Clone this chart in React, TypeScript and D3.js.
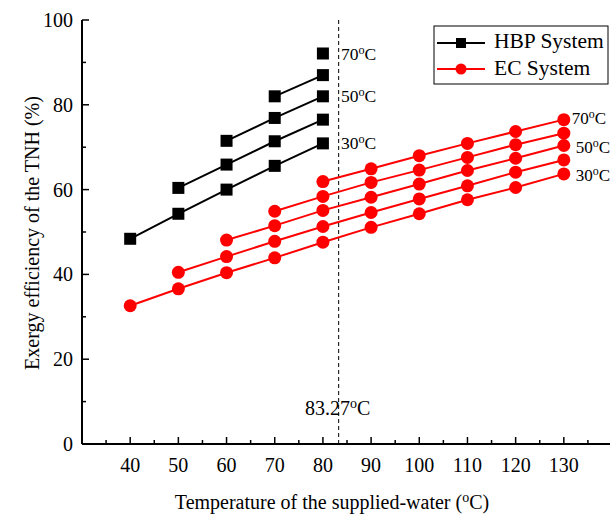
import React from "react";
import * as d3 from "d3";

// supplied-water temperatures (x values)
const hbpTemps = [40, 50, 60, 70, 80];
const ecTemps = [40, 50, 60, 70, 80, 90, 100, 110, 120, 130];

// HBP system, one list per return-water temperature (each ends at 80)
const hbp30 = [48.4, 54.3, 60.0, 65.6, 70.9];
const hbp40 = [60.4, 65.9, 71.4, 76.5];
const hbp50 = [71.5, 76.9, 82.0];
const hbp60 = [82.0, 87.0];
const hbp70 = [92.1];

// EC system, each list ends at 130
const ec30 = [32.6, 36.6, 40.4, 43.9, 47.6, 51.1, 54.3, 57.6, 60.5, 63.7];
const ec40 = [40.5, 44.2, 47.8, 51.3, 54.6, 57.8, 60.9, 64.1, 67.0];
const ec50 = [48.1, 51.5, 55.1, 58.2, 61.3, 64.5, 67.4, 70.4];
const ec60 = [54.9, 58.4, 61.7, 64.6, 67.6, 70.6, 73.3];
const ec70 = [61.9, 64.9, 68.0, 70.9, 73.7, 76.5];

const xTicks = [40, 50, 60, 70, 80, 90, 100, 110, 120, 130];
const xMinor = [35, 45, 55, 65, 75, 85, 95, 105, 115, 125, 135];
const yTicks = [0, 20, 40, 60, 80, 100];
const yMinor = [10, 30, 50, 70, 90];

const hbpLabels = ["30", "50", "70"];
const ecLabels = ["30", "50", "70"];
const critical = 83.27;

const FONT = "'Liberation Serif', 'Times New Roman', serif";

type Pt = [number, number];

// line up each list with the last temperatures of its x array
function toPoints(temps: number[], vals: number[]): Pt[] {
  const off = temps.length - vals.length;
  return vals.map((v, i) => [temps[off + i], v]);
}

function Deg(props: { t: string }) {
  return (
    <>
      <tspan>{props.t}</tspan>
      <tspan dy={-6} fontSize="0.7em">o</tspan>
      <tspan dy={6}>C</tspan>
    </>
  );
}

export default function App() {
  const width = 610, height = 515;
  const x = d3.scaleLinear().domain([30, 140]).range([82, 612]);
  const y = d3.scaleLinear().domain([0, 100]).range([444, 20]);

  const line = d3.line<Pt>().x(d => x(d[0])).y(d => y(d[1]));

  const hbp = [hbp30, hbp40, hbp50, hbp60, hbp70].map(v => toPoints(hbpTemps, v));
  const ec = [ec30, ec40, ec50, ec60, ec70].map(v => toPoints(ecTemps, v));

  const sq = 12;

  // series label anchors: 30, 50, 70 -> series index 0, 2, 4
  const labelIdx = [0, 2, 4];
  const hbpDy = [5.5, 5.5, 7];
  const ecDx = [12, 12, 8];
  const ecDy = [7, 7, 4.5];

  return (
    <svg width={width} height={height} style={{ position: "absolute", left: 0, top: 0 }}
      fontFamily={FONT}>
      <rect width={width} height={height} fill="white" />

      {/* dashed critical temperature */}
      <line x1={x(critical)} x2={x(critical)} y1={y(100)} y2={y(0)}
        stroke="#000" strokeWidth={1} strokeDasharray="4,3" />
      <text x={x(critical) - 1} y={415} textAnchor="middle" fontSize={20}>
        {critical.toFixed(2)}
        <tspan dy={-7} fontSize="0.7em">o</tspan>
        <tspan dy={7}>C</tspan>
      </text>

      {/* EC series */}
      {ec.map((pts, i) => (
        <g key={"ec" + i}>
          {pts.length > 1 && <path d={line(pts) || ""} fill="none" stroke="#ff0000" strokeWidth={2} />}
          {pts.map((p, j) => (
            <circle key={j} cx={x(p[0])} cy={y(p[1])} r={6.5} fill="#ff0000" />
          ))}
        </g>
      ))}

      {/* HBP series */}
      {hbp.map((pts, i) => (
        <g key={"hbp" + i}>
          {pts.length > 1 && <path d={line(pts) || ""} fill="none" stroke="#000" strokeWidth={2} />}
          {pts.map((p, j) => (
            <rect key={j} x={x(p[0]) - sq / 2} y={y(p[1]) - sq / 2} width={sq} height={sq} fill="#000" />
          ))}
        </g>
      ))}

      {/* series labels */}
      {hbpLabels.map((t, k) => {
        const pts = hbp[labelIdx[k]];
        const p = pts[pts.length - 1];
        return (
          <text key={"hl" + k} x={x(p[0]) + 18} y={y(p[1]) + hbpDy[k]} fontSize={17.5}>
            <Deg t={t} />
          </text>
        );
      })}
      {ecLabels.map((t, k) => {
        const pts = ec[labelIdx[k]];
        const p = pts[pts.length - 1];
        return (
          <text key={"el" + k} x={x(p[0]) + ecDx[k]} y={y(p[1]) + ecDy[k]} fontSize={17}>
            <Deg t={t} />
          </text>
        );
      })}

      {/* axes */}
      <line x1={x(30)} x2={610} y1={y(0)} y2={y(0)} stroke="#000" strokeWidth={2} />
      <line x1={x(30)} x2={x(30)} y1={y(0)} y2={y(100)} stroke="#000" strokeWidth={2} />
      {xTicks.map(t => (
        <g key={"xt" + t}>
          <line x1={x(t)} x2={x(t)} y1={y(0)} y2={y(0) - 7} stroke="#000" strokeWidth={1.5} />
          <text x={x(t)} y={472} textAnchor="middle" fontSize={20}>{t}</text>
        </g>
      ))}
      {xMinor.map(t => (
        <line key={"xm" + t} x1={x(t)} x2={x(t)} y1={y(0)} y2={y(0) - 4} stroke="#000" strokeWidth={1.5} />
      ))}
      {yTicks.map(t => (
        <g key={"yt" + t}>
          <line x1={x(30)} x2={x(30) + 7} y1={y(t)} y2={y(t)} stroke="#000" strokeWidth={1.5} />
          <text x={x(30) - 9} y={y(t) + 7} textAnchor="end" fontSize={20}>{t}</text>
        </g>
      ))}
      {yMinor.map(t => (
        <line key={"ym" + t} x1={x(30)} x2={x(30) + 4} y1={y(t)} y2={y(t)} stroke="#000" strokeWidth={1.5} />
      ))}

      {/* axis titles */}
      <text x={332} y={509} textAnchor="middle" fontSize={20}>
        Temperature of the supplied-water (<tspan dy={-7} fontSize="0.7em">o</tspan><tspan dy={7}>C)</tspan>
      </text>
      <text transform="translate(39,233) rotate(-90)" textAnchor="middle" fontSize={20}>
        Exergy efficiency of the TNH (%)
      </text>

      {/* legend */}
      <rect x={434} y={26} width={174} height={58} fill="white" stroke="#000" strokeWidth={1} />
      <line x1={437} x2={485} y1={43} y2={43} stroke="#000" strokeWidth={2} />
      <rect x={461 - 5} y={43 - 5} width={10} height={10} fill="#000" />
      <text x={494} y={48} fontSize={21.5}>HBP System</text>
      <line x1={437} x2={485} y1={69} y2={69} stroke="#ff0000" strokeWidth={2} />
      <circle cx={461} cy={69} r={5.5} fill="#ff0000" />
      <text x={494} y={75} fontSize={21.5}>EC System</text>
    </svg>
  );
}
